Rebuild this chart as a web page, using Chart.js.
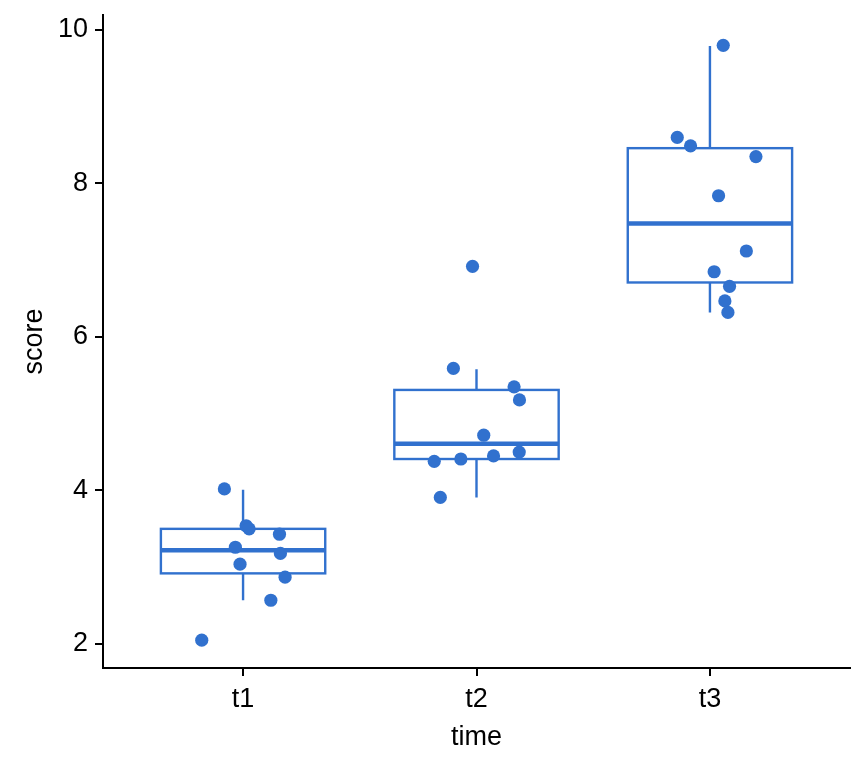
<!DOCTYPE html>
<html>
<head>
<meta charset="utf-8">
<script src="https://cdn.jsdelivr.net/npm/chart.js@4"></script>
<style>
  html, body { margin: 0; padding: 0; background: #fff; }
  #wrap { width: 864px; height: 768px; }
</style>
</head>
<body>
<div id="wrap"><canvas id="scoreChart" width="864" height="768"></canvas></div>
<script>
// categories and box stats
const categories = ["t1", "t2", "t3"];
const whiskerLow = [2.57, 3.91, 6.32];
const q1 = [2.92, 4.41, 6.71];
const median = [3.22, 4.61, 7.48];
const q3 = [3.50, 5.31, 8.46];
const whiskerHigh = [4.01, 5.58, 9.79];

// jittered points (x = category position + jitter)
const t1X = [0.92, 1.013, 1.026, 1.156, 0.967, 1.16, 0.987, 1.18, 1.119, 0.823];
const t1Y = [4.02, 3.54, 3.50, 3.43, 3.26, 3.18, 3.04, 2.87, 2.57, 2.05];
const t2X = [1.983, 1.901, 2.161, 2.184, 2.031, 2.183, 1.819, 1.933, 2.073, 1.845];
const t2Y = [6.92, 5.59, 5.35, 5.18, 4.72, 4.50, 4.38, 4.41, 4.45, 3.91];
const t3X = [3.057, 2.86, 2.917, 3.197, 3.037, 3.156, 3.018, 3.084, 3.064, 3.077];
const t3Y = [9.80, 8.60, 8.49, 8.35, 7.84, 7.12, 6.85, 6.66, 6.47, 6.32];

const yTicks = [2, 4, 6, 8, 10];
const blue = "#3171CE";
const boxHalfWidth = 0.352;
const fontFamily = "'Liberation Sans', Arial, sans-serif";

function toPoints(xs, ys) {
    return xs.map((x, i) => ({ x: x, y: ys[i] }));
}
const allPoints = [].concat(toPoints(t1X, t1Y), toPoints(t2X, t2Y), toPoints(t3X, t3Y));

// draws the boxplots from the stats arrays using the chart scales
const boxPlugin = {
    id: "boxes",
    beforeDatasetsDraw(chart) {
        const ctx = chart.ctx;
        const xs = chart.scales.x, ys = chart.scales.y;
        ctx.save();
        ctx.strokeStyle = blue;
        categories.forEach((c, i) => {
            const cx = xs.getPixelForValue(i + 1);
            const left = xs.getPixelForValue(i + 1 - boxHalfWidth);
            const right = xs.getPixelForValue(i + 1 + boxHalfWidth);
            const yq1 = ys.getPixelForValue(q1[i]);
            const yq3 = ys.getPixelForValue(q3[i]);
            ctx.lineWidth = 2.4;
            ctx.beginPath();
            ctx.moveTo(cx, ys.getPixelForValue(whiskerHigh[i]));
            ctx.lineTo(cx, yq3);
            ctx.moveTo(cx, yq1);
            ctx.lineTo(cx, ys.getPixelForValue(whiskerLow[i]));
            ctx.stroke();
            ctx.strokeRect(left, yq3, right - left, yq1 - yq3);
            ctx.lineWidth = 4.5;
            ctx.beginPath();
            const ym = ys.getPixelForValue(median[i]);
            ctx.moveTo(left, ym);
            ctx.lineTo(right, ym);
            ctx.stroke();
        });
        ctx.restore();
    }
};

const ctx = document.getElementById("scoreChart").getContext("2d");
const scoreChart = new Chart(ctx, {
    type: "scatter",
    data: {
        datasets: [{
            label: "score",
            data: allPoints,
            backgroundColor: blue,
            borderColor: blue,
            borderWidth: 0,
            pointRadius: 6.6,
            pointHoverRadius: 6.6
        }]
    },
    options: {
        responsive: false,
        animation: false,
        layout: { padding: { left: 14, right: 14, top: 15, bottom: 10 } },
        plugins: {
            legend: { display: false },
            tooltip: { enabled: false }
        },
        scales: {
            x: {
                type: "linear",
                min: 0.4,
                max: 3.6,
                afterBuildTicks(scale) {
                    scale.ticks = categories.map((c, i) => ({ value: i + 1 }));
                },
                afterFit(scale) {
                    scale.height = 90;
                    scale.paddingLeft = 0;
                    scale.paddingRight = 0;
                },
                ticks: {
                    callback: (v) => categories[v - 1],
                    color: "#000",
                    font: { family: fontFamily, size: 27 },
                    padding: 7,
                    maxRotation: 0
                },
                grid: { drawOnChartArea: false, drawTicks: true, tickLength: 8, color: "#000", lineWidth: 2 },
                border: { display: true, color: "#000", width: 2 },
                title: {
                    display: true,
                    text: "time",
                    color: "#000",
                    font: { family: fontFamily, size: 27 },
                    padding: { top: 2 }
                }
            },
            y: {
                type: "linear",
                min: 1.687,
                max: 10.195,
                afterBuildTicks(scale) {
                    scale.ticks = yTicks.map(v => ({ value: v }));
                },
                afterFit(scale) {
                    scale.width = 89;
                    scale.paddingTop = 0;
                    scale.paddingBottom = 0;
                },
                ticks: {
                    color: "#000",
                    font: { family: fontFamily, size: 27 },
                    padding: 7
                },
                grid: { drawOnChartArea: false, drawTicks: true, tickLength: 8, color: "#000", lineWidth: 2 },
                border: { display: true, color: "#000", width: 2 },
                title: {
                    display: true,
                    text: "score",
                    color: "#000",
                    font: { family: fontFamily, size: 27 },
                    padding: { bottom: 0 }
                }
            }
        }
    },
    plugins: [boxPlugin]
});
</script>
</body>
</html>
